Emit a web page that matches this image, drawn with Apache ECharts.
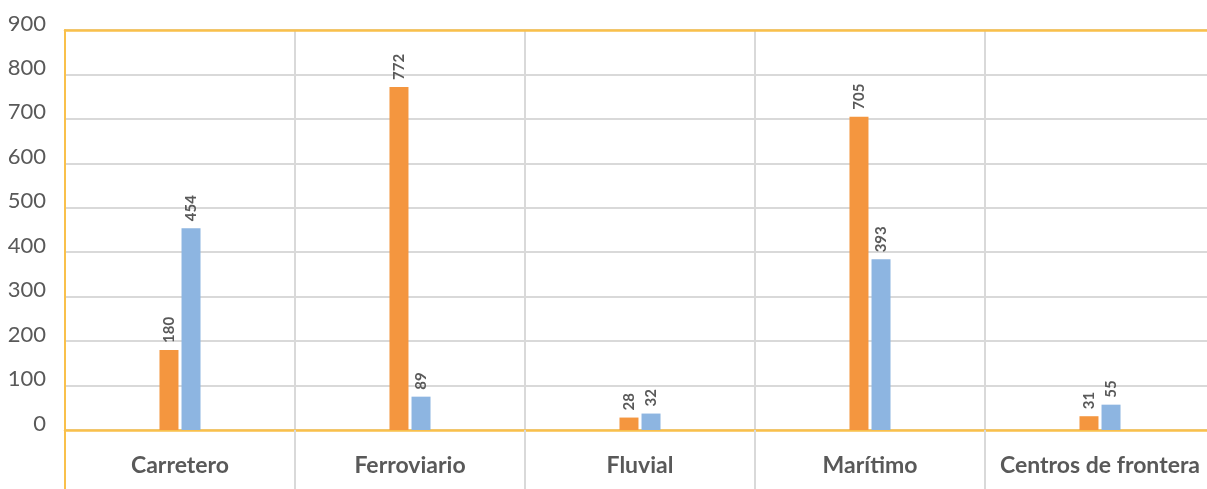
<!DOCTYPE html>
<html>
<head>
<meta charset="utf-8">
<script src="https://cdn.jsdelivr.net/npm/echarts@6/dist/echarts.min.js"></script>
<style>html,body{margin:0;padding:0;background:#fff;}#c{width:1207px;height:489px;}</style>
</head>
<body>
<div id="c"></div>
<script>
var categories = ['Carretero', 'Ferroviario', 'Fluvial', 'Marítimo', 'Centros de frontera'];
var seriesA = [180, 772, 28, 705, 31];
var seriesB = [454, 75, 37, 384, 57];
var labelsA = [180, 772, 28, 705, 31];
var labelsB = [454, 89, 32, 393, 55];
var yTicks = [0, 100, 200, 300, 400, 500, 600, 700, 800, 900];

var gold = '#F9C04B';
var gray = '#D9D9D9';
var textColor = '#595959';
var font = 'Lato, "Open Sans", sans-serif';

function mkLabel(labels) {
  return {
    show: true,
    position: 'top',
    rotate: 90,
    distance: 7,
    align: 'left',
    verticalAlign: 'middle',
    color: textColor,
    fontFamily: font,
    fontWeight: 'bold',
    fontSize: 15,
    formatter: function (p) { return labels[p.dataIndex]; }
  };
}

var chart = echarts.init(document.getElementById('c'), null, {renderer: 'canvas'});
chart.setOption({
  animation: false,
  grid: {left: 65, top: 30, width: 1150, height: 400, containLabel: false, outerBoundsMode: 'none'},
  xAxis: [{
    type: 'category',
    data: categories,
    boundaryGap: true,
    axisLine: {show: true, lineStyle: {color: gold, width: 2.5}},
    axisTick: {show: true, interval: 0, length: 59, inside: false, lineStyle: {color: gray, width: 2}},
    splitLine: {show: true, interval: 0, lineStyle: {color: gray, width: 2}},
    axisLabel: {interval: 0, margin: 24, color: textColor, fontFamily: font, fontWeight: 'bold', fontSize: 23}
  }, {
    type: 'category',
    position: 'top',
    data: categories,
    axisLine: {show: true, lineStyle: {color: gold, width: 2.5}},
    axisTick: {show: false},
    axisLabel: {show: false},
    splitLine: {show: false}
  }],
  yAxis: {
    type: 'value',
    min: yTicks[0],
    max: yTicks[yTicks.length - 1],
    interval: 100,
    axisLine: {show: true, lineStyle: {color: gold, width: 2}},
    axisTick: {show: false},
    splitLine: {show: true, lineStyle: {color: gray, width: 2}},
    axisLabel: {margin: 19, color: textColor, fontFamily: font, fontSize: 22, verticalAlign: 'bottom', lineHeight: 13}
  },
  graphic: [{
    type: 'line',
    shape: {x1: 65, y1: 430, x2: 65, y2: 489},
    style: {stroke: gold, lineWidth: 2},
    z: 100
  }],
  series: [{
    type: 'bar',
    data: seriesA,
    barWidth: 19,
    barGap: '16%',
    itemStyle: {color: '#F4963F'},
    label: mkLabel(labelsA)
  }, {
    type: 'bar',
    data: seriesB,
    barWidth: 19,
    barGap: '16%',
    itemStyle: {color: '#8DB5E1'},
    label: mkLabel(labelsB)
  }]
});
</script>
</body>
</html>
